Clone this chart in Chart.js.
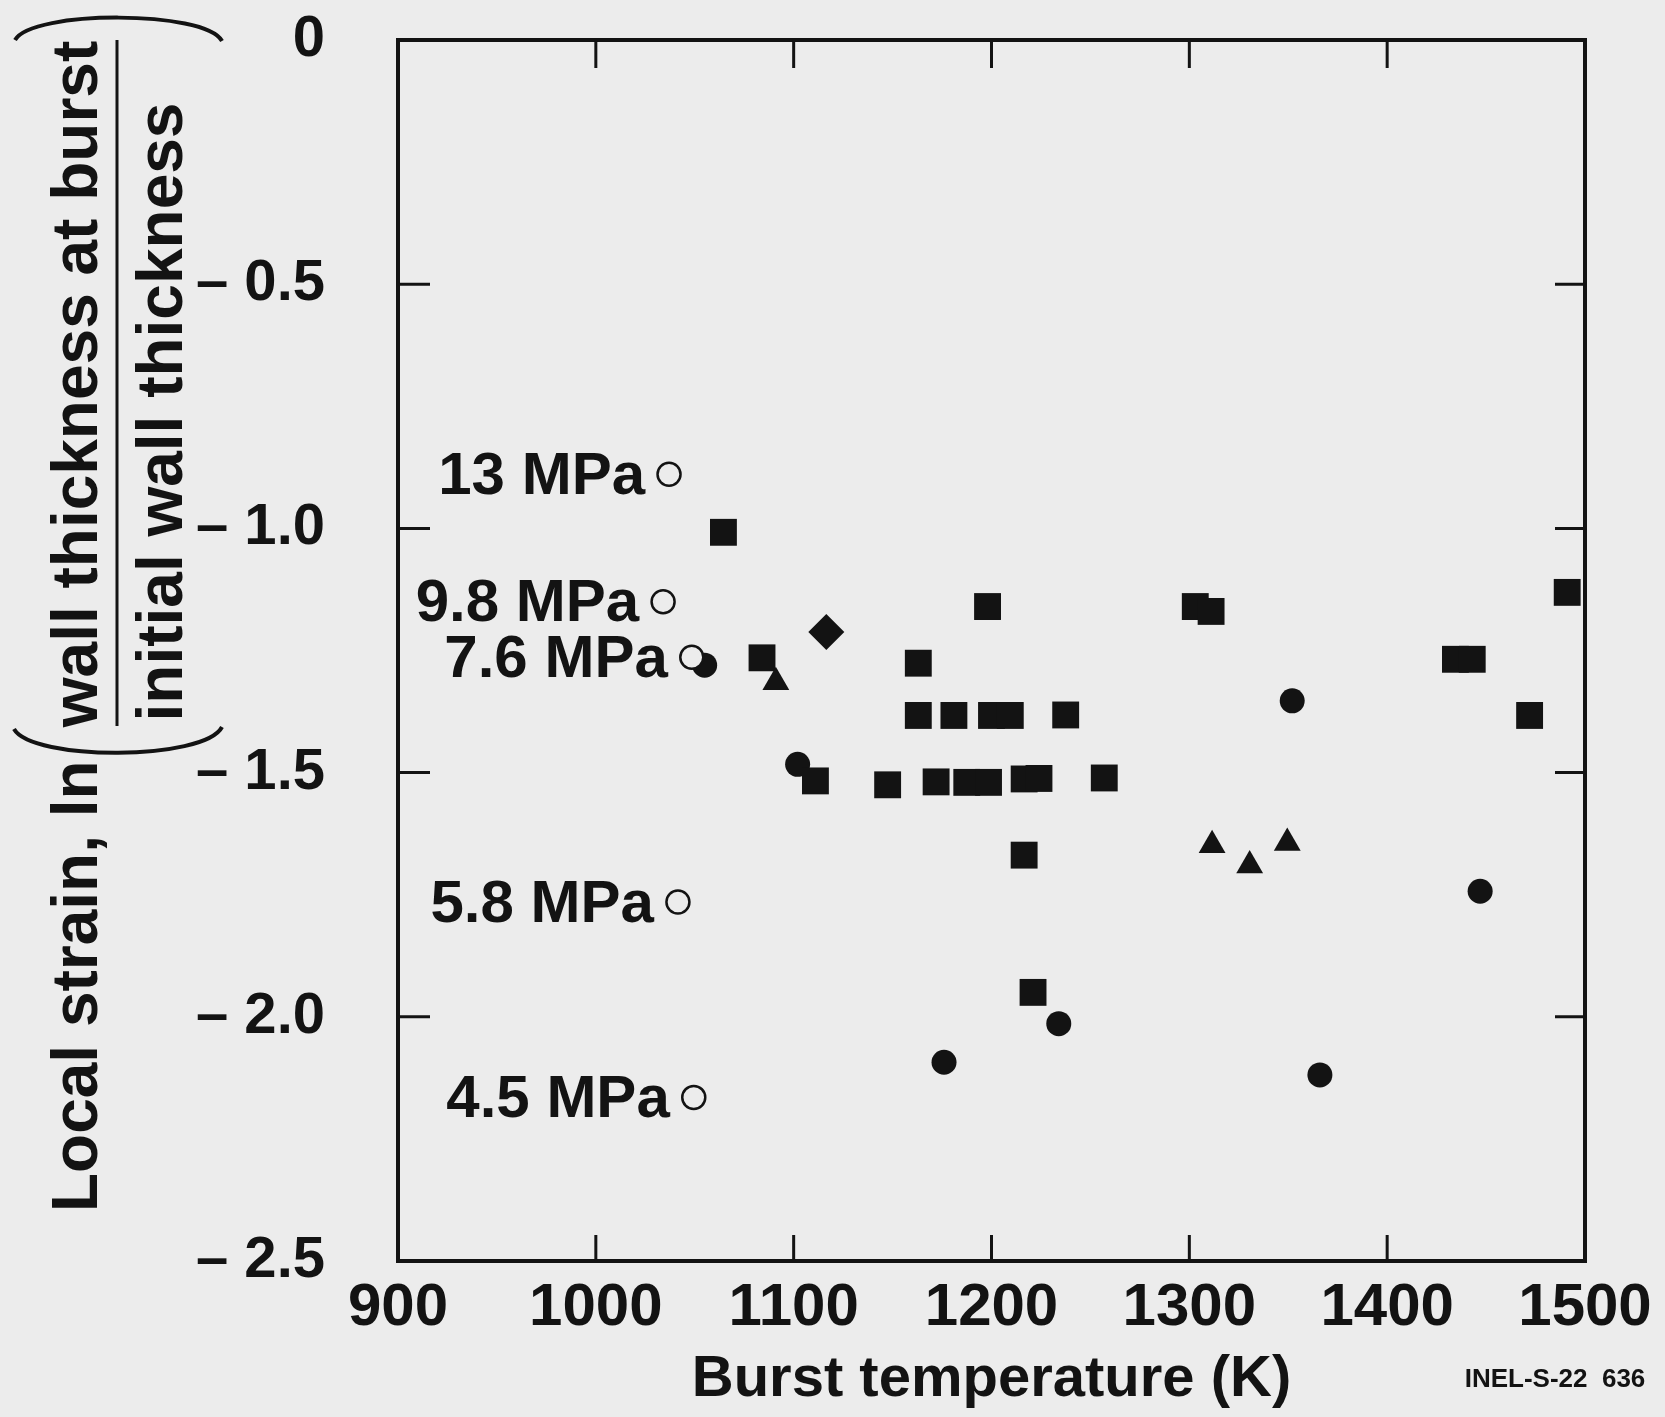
<!DOCTYPE html>
<html>
<head>
<meta charset="utf-8">
<script src="https://cdn.jsdelivr.net/npm/chart.js@4/dist/chart.umd.min.js"></script>
<style>
  html, body { margin: 0; padding: 0; background: #ececec; }
  canvas { display: block; }
</style>
</head>
<body>
<canvas id="chart" width="1665" height="1417"></canvas>
<script>
// Burst temperature (K) and local strain values
const squareTemp = [1064.5, 1084, 1198, 1303, 1311, 1163,
  1163, 1181, 1200, 1209.5, 1237.5,
  1111, 1147.5, 1172, 1187.5, 1198.5, 1216.5, 1224, 1257,
  1216.5, 1221, 1491, 1434.5, 1443, 1472];
const squareStrain = [-1.008, -1.265, -1.16, -1.16, -1.17, -1.276,
  -1.383, -1.383, -1.383, -1.383, -1.382,
  -1.517, -1.525, -1.519, -1.52, -1.52, -1.513, -1.512, -1.511,
  -1.669, -1.95, -1.131, -1.268, -1.268, -1.383];

const circleTemp = [1055, 1102, 1352, 1234, 1176, 1366, 1447];
const circleStrain = [-1.28, -1.483, -1.353, -2.014, -2.093, -2.119, -1.743];

const triangleTemp = [1091, 1311.5, 1330.5, 1349.5];
const triangleStrain = [-1.315, -1.649, -1.69, -1.644];

const diamondTemp = [1116.5];
const diamondStrain = [-1.212];

// open circles labelled with pressure
const pressureLabels = ['13 MPa', '9.8 MPa', '7.6 MPa', '5.8 MPa', '4.5 MPa'];
const openTemp = [1037, 1034, 1048.5, 1041.5, 1049.5];
const openStrain = [-0.889, -1.15, -1.264, -1.765, -2.165];

const xTicks = [1000, 1100, 1200, 1300, 1400];
const yTicks = [-0.5, -1.0, -1.5, -2.0];

const paper = '#ececec';
const ink = '#131313';
const fontFamily = '"Liberation Sans", Arial, sans-serif';

function points(xs, ys) {
  return xs.map((x, i) => ({ x: x, y: ys[i] }));
}

const framePlugin = {
  id: 'frame',
  beforeDraw(chart) {
    const ctx = chart.ctx;
    ctx.save();
    ctx.fillStyle = paper;
    ctx.fillRect(0, 0, chart.width, chart.height);
    ctx.restore();
  },
  beforeDatasetsDraw(chart) {
    const { ctx, chartArea: a, scales } = chart;
    ctx.save();
    ctx.strokeStyle = ink;
    ctx.lineWidth = 4;
    ctx.strokeRect(a.left, a.top, a.right - a.left, a.bottom - a.top);
    // inward tick marks on all four sides
    ctx.lineWidth = 3;
    ctx.beginPath();
    xTicks.forEach(v => {
      const px = scales.x.getPixelForValue(v);
      ctx.moveTo(px, a.top); ctx.lineTo(px, a.top + 28);
      ctx.moveTo(px, a.bottom); ctx.lineTo(px, a.bottom - 26);
    });
    yTicks.forEach(v => {
      const py = scales.y.getPixelForValue(v);
      ctx.moveTo(a.left, py); ctx.lineTo(a.left + 32, py);
      ctx.moveTo(a.right, py); ctx.lineTo(a.right - 30, py);
    });
    ctx.stroke();
    ctx.restore();
  },
  afterDatasetsDraw(chart) {
    const ctx = chart.ctx;
    const meta = chart.getDatasetMeta(0);
    ctx.save();
    ctx.fillStyle = ink;
    ctx.font = 'bold 60px ' + fontFamily;
    ctx.textAlign = 'right';
    ctx.textBaseline = 'middle';
    meta.data.forEach((pt, i) => {
      ctx.fillText(pressureLabels[i], pt.x - 24, pt.y + 3);
    });
    ctx.restore();
  },
  afterDraw(chart) {
    const ctx = chart.ctx;
    ctx.save();
    ctx.fillStyle = ink;
    ctx.strokeStyle = ink;
    ctx.font = 'bold 64px ' + fontFamily;
    ctx.textBaseline = 'alphabetic';

    // y axis title: Local strain, ln( numerator / denominator )
    ctx.save();
    ctx.translate(97, 1212);
    ctx.rotate(-Math.PI / 2);
    ctx.textAlign = 'left';
    ctx.fillText('Local strain, ln', 0, 0);
    ctx.restore();

    ctx.save();
    ctx.translate(97, 384);
    ctx.rotate(-Math.PI / 2);
    ctx.textAlign = 'center';
    ctx.fillText('wall thickness at burst', 0, 0);
    ctx.restore();

    ctx.save();
    ctx.translate(182, 412);
    ctx.rotate(-Math.PI / 2);
    ctx.textAlign = 'center';
    ctx.fillText('initial wall thickness', 0, 0);
    ctx.restore();

    ctx.lineWidth = 3;
    ctx.beginPath();
    ctx.moveTo(117, 40);
    ctx.lineTo(117, 726);
    ctx.stroke();

    ctx.lineWidth = 4;
    ctx.beginPath();
    ctx.moveTo(14, 729);
    ctx.bezierCurveTo(32, 761, 204, 761, 222, 727);
    ctx.stroke();
    ctx.beginPath();
    ctx.moveTo(15, 40);
    ctx.bezierCurveTo(32, 10, 205, 10, 222, 41);
    ctx.stroke();

    ctx.font = 'bold 26px ' + fontFamily;
    ctx.textAlign = 'center';
    ctx.textBaseline = 'middle';
    ctx.fillText('INEL-S-22  636', 1555, 1380);
    ctx.restore();
  }
};

const filled = { backgroundColor: ink, borderWidth: 0 };

new Chart(document.getElementById('chart'), {
  type: 'scatter',
  data: {
    datasets: [
      { label: 'open', data: points(openTemp, openStrain), pointStyle: 'circle', pointRadius: 11.5,
        backgroundColor: paper, borderColor: ink, borderWidth: 2.5 },
      Object.assign({ label: 'diamond', data: points(diamondTemp, diamondStrain), pointStyle: 'rectRot', pointRadius: 18 }, filled),
      Object.assign({ label: 'triangle', data: points(triangleTemp, triangleStrain), pointStyle: 'triangle', pointRadius: 15.5 }, filled),
      Object.assign({ label: 'square', data: points(squareTemp, squareStrain), pointStyle: 'rect', pointRadius: 19 }, filled),
      Object.assign({ label: 'circle', data: points(circleTemp, circleStrain), pointStyle: 'circle', pointRadius: 12.5 }, filled)
    ]
  },
  options: {
    responsive: false,
    animation: false,
    devicePixelRatio: 1,
    events: [],
    layout: { padding: { top: 40, right: 80, left: 0, bottom: 0 } },
    plugins: {
      legend: { display: false },
      tooltip: { enabled: false }
    },
    scales: {
      x: {
        type: 'linear',
        min: 900,
        max: 1500,
        afterFit: s => { s.height = 156; },
        grid: { display: false, drawTicks: false },
        border: { display: false },
        ticks: {
          stepSize: 100,
          padding: 11,
          color: ink,
          font: { family: fontFamily, size: 60, weight: 'bold' },
          callback: v => String(v)
        },
        title: {
          display: true,
          text: 'Burst temperature (K)',
          color: ink,
          font: { family: fontFamily, size: 58, weight: 'bold' },
          padding: { top: 0, bottom: 2 }
        }
      },
      y: {
        type: 'linear',
        min: -2.5,
        max: 0,
        afterFit: s => { s.width = 398; s.paddingTop = 0; s.paddingBottom = 0; },
        grid: { display: false, drawTicks: false },
        border: { display: false },
        ticks: {
          stepSize: 0.5,
          padding: 73,
          color: ink,
          font: { family: fontFamily, size: 58, weight: 'bold' },
          callback: v => v === 0 ? '0' : '\u2013 ' + Math.abs(v).toFixed(1)
        }
      }
    }
  },
  plugins: [framePlugin]
});
</script>
</body>
</html>
